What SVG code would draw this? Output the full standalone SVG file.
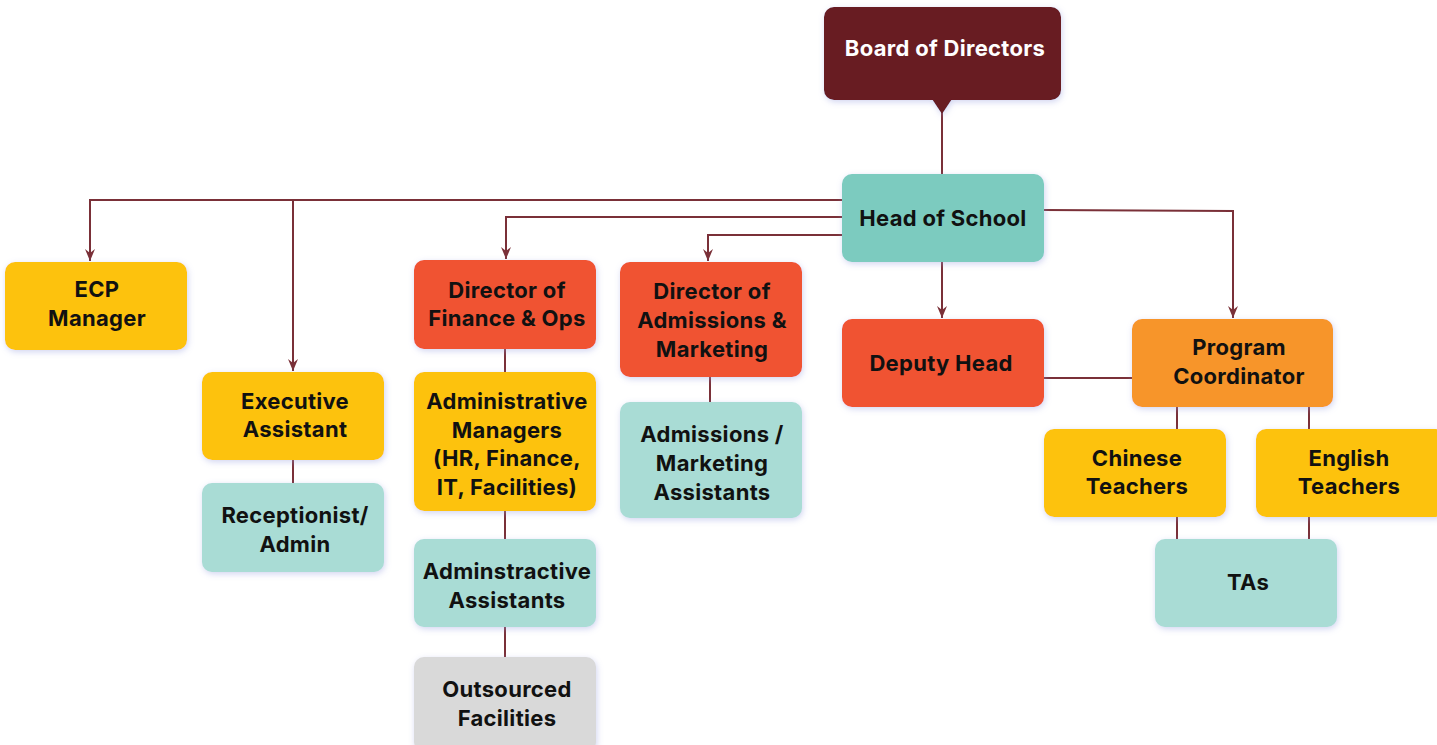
<svg xmlns="http://www.w3.org/2000/svg" width="1437" height="745" viewBox="0 0 1437 745">
  <defs>
    <filter id="glow" x="-20%" y="-20%" width="140%" height="140%">
      <feDropShadow dx="1" dy="2" stdDeviation="3" flood-color="#9aa2e0" flood-opacity="0.45"/>
    </filter>
    <marker id="arrow" viewBox="0 0 12 10" refX="12" refY="5" markerWidth="12" markerHeight="10" markerUnits="userSpaceOnUse" orient="auto">
      <path d="M0,0 L12,5 L0,10 L4,5 Z" fill="#7a3038"/>
    </marker>
    <style>
      .box { filter: url(#glow); }
      .lbl { font-family: "Inter", "Liberation Sans", sans-serif; font-weight: 700; font-size: 22px; letter-spacing: 0.3px; fill: #111; text-anchor: middle; }
      .white { fill: #ffffff; }
      .conn path { fill: none; stroke: #7a3038; stroke-width: 2; }
      .yellow { fill: #fdc20e; }
      .teal { fill: #7bcbbf; }
      .lteal { fill: #a9dcd5; }
      .red { fill: #f05330; }
      .orange { fill: #f7952a; }
      .grey { fill: #d9d9d9; }
      .maroon { fill: #671a20; }
    </style>
  </defs>
  <rect width="1437" height="745" fill="#ffffff"/>

  <!-- connectors -->
  <g class="conn">
    <path d="M942,110 V174"/>
    <path d="M842,200 H90 V261" marker-end="url(#arrow)"/>
    <path d="M293,200 V371" marker-end="url(#arrow)"/>
    <path d="M842,217 H506 V259" marker-end="url(#arrow)"/>
    <path d="M842,235 H708 V261" marker-end="url(#arrow)"/>
    <path d="M1044,210 L1233,211 V318" marker-end="url(#arrow)"/>
    <path d="M942,262 V318" marker-end="url(#arrow)"/>
    <path d="M293,460 V483"/>
    <path d="M505,349 V372"/>
    <path d="M505,511 V539"/>
    <path d="M505,627 V657"/>
    <path d="M710,377 V402"/>
    <path d="M1044,378 H1132"/>
    <path d="M1177,407 V429"/>
    <path d="M1309,407 V429"/>
    <path d="M1177,517 V539"/>
    <path d="M1309,517 V539"/>
  </g>

  <g id="board">
    <g class="box">
      <rect class="maroon" x="824" y="7" width="237" height="93" rx="10"/>
      <path class="maroon" d="M932,99 L952,99 L942,114 Z"/>
    </g>
    <text class="lbl white" x="945" y="56">Board of Directors</text>
  </g>

  <g id="head-of-school">
    <rect class="box teal" x="842" y="174" width="202" height="88" rx="10"/>
    <text class="lbl" x="943" y="226">Head of School</text>
  </g>

  <g id="ecp-manager">
    <rect class="box yellow" x="5" y="262" width="182" height="88" rx="10"/>
    <text class="lbl" x="97" y="297"><tspan x="97">ECP</tspan><tspan x="97" dy="29">Manager</tspan></text>
  </g>

  <g id="executive-assistant">
    <rect class="box yellow" x="202" y="372" width="182" height="88" rx="10"/>
    <text class="lbl" x="295" y="409"><tspan x="295">Executive</tspan><tspan x="295" dy="28">Assistant</tspan></text>
  </g>

  <g id="receptionist">
    <rect class="box lteal" x="202" y="483" width="182" height="89" rx="10"/>
    <text class="lbl" x="295" y="523"><tspan x="295">Receptionist/</tspan><tspan x="295" dy="29">Admin</tspan></text>
  </g>

  <g id="director-finance">
    <rect class="box red" x="414" y="260" width="182" height="89" rx="10"/>
    <text class="lbl" x="507" y="298"><tspan x="507">Director of</tspan><tspan x="507" dy="28">Finance &amp; Ops</tspan></text>
  </g>

  <g id="admin-managers">
    <rect class="box yellow" x="414" y="372" width="182" height="139" rx="10"/>
    <text class="lbl" x="507" y="409"><tspan x="507">Administrative</tspan><tspan x="507" dy="28.7">Managers</tspan><tspan x="507" dy="28.7">(HR, Finance,</tspan><tspan x="507" dy="28.7">IT, Facilities)</tspan></text>
  </g>

  <g id="admin-assistants">
    <rect class="box lteal" x="414" y="539" width="182" height="88" rx="10"/>
    <text class="lbl" x="507" y="579"><tspan x="507">Adminstractive</tspan><tspan x="507" dy="29">Assistants</tspan></text>
  </g>

  <g id="outsourced">
    <rect class="box grey" x="414" y="657" width="182" height="95" rx="10"/>
    <text class="lbl" x="507" y="697"><tspan x="507">Outsourced</tspan><tspan x="507" dy="29">Facilities</tspan></text>
  </g>

  <g id="director-admissions">
    <rect class="box red" x="620" y="262" width="182" height="115" rx="10"/>
    <text class="lbl" x="712" y="299"><tspan x="712">Director of</tspan><tspan x="712" dy="29">Admissions &amp;</tspan><tspan x="712" dy="29">Marketing</tspan></text>
  </g>

  <g id="admissions-assistants">
    <rect class="box lteal" x="620" y="402" width="182" height="116" rx="10"/>
    <text class="lbl" x="712" y="442"><tspan x="712">Admissions /</tspan><tspan x="712" dy="29">Marketing</tspan><tspan x="712" dy="29">Assistants</tspan></text>
  </g>

  <g id="deputy-head">
    <rect class="box red" x="842" y="319" width="202" height="88" rx="10"/>
    <text class="lbl" x="941" y="371">Deputy Head</text>
  </g>

  <g id="program-coordinator">
    <rect class="box orange" x="1132" y="319" width="201" height="88" rx="10"/>
    <text class="lbl" x="1239" y="355"><tspan x="1239">Program</tspan><tspan x="1239" dy="29">Coordinator</tspan></text>
  </g>

  <g id="chinese-teachers">
    <rect class="box yellow" x="1044" y="429" width="182" height="88" rx="10"/>
    <text class="lbl" x="1137" y="466"><tspan x="1137">Chinese</tspan><tspan x="1137" dy="28">Teachers</tspan></text>
  </g>

  <g id="english-teachers">
    <rect class="box yellow" x="1256" y="429" width="190" height="88" rx="10"/>
    <text class="lbl" x="1349" y="466"><tspan x="1349">English</tspan><tspan x="1349" dy="28">Teachers</tspan></text>
  </g>

  <g id="tas">
    <rect class="box lteal" x="1155" y="539" width="182" height="88" rx="10"/>
    <text class="lbl" x="1248" y="590">TAs</text>
  </g>
</svg>
